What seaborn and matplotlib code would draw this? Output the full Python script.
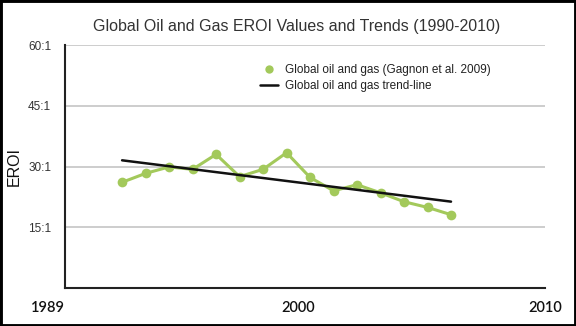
import matplotlib
matplotlib.use("Agg")
import matplotlib.pyplot as plt
from matplotlib.lines import Line2D
from matplotlib.patches import Rectangle
import seaborn as sns
import pandas as pd

# EROI of global oil and gas production (Gagnon et al. 2009)
years = [1992, 1993, 1994, 1995, 1996, 1997, 1998, 1999,
         2000, 2001, 2002, 2003, 2004, 2005, 2006]
eroi = [26.1, 28.3, 29.9, 29.3, 33.0, 27.5, 29.3, 33.4,
        27.3, 24.0, 25.5, 23.5, 21.3, 19.9, 18.1]

y_ticks = [15, 30, 45, 60]
y_tick_labels = ["15:1", "30:1", "45:1", "60:1"]
x_ticks = [1989.57, 1999.5, 2010]
x_tick_labels = ["1989", "2000", "2010"]

df = pd.DataFrame({"year": years, "eroi": eroi})

sns.set_theme(style="white")
plt.rcParams["font.family"] = ["Liberation Sans", "DejaVu Sans"]

green = "#a3c95b"

fig = plt.figure(figsize=(5.76, 3.26), dpi=100)
ax = fig.add_axes([65 / 576, 38 / 326, 480 / 576, 243 / 326])

ax.set_xlim(1989.57, 2010)
ax.set_ylim(0, 60)

# horizontal gridlines
for y in y_ticks:
    ax.axhline(y, color="#c9c9c9", lw=1.3, zorder=0)

sns.lineplot(data=df, x="year", y="eroi", ax=ax, color=green, lw=2.2,
             marker="o", markersize=7, markeredgewidth=0, zorder=3)
sns.regplot(data=df, x="year", y="eroi", ax=ax, scatter=False, ci=None,
            truncate=True, line_kws={"color": "#111111", "lw": 1.8, "zorder": 4})

ax.set_yticks(y_ticks)
ax.set_yticklabels(y_tick_labels, fontsize=8.5, color="#333333")
ax.set_xticks(x_ticks)
ax.set_xticklabels(x_tick_labels, fontsize=10.5, color="#111111",
                   family=["Lato", "DejaVu Sans"], fontweight="semibold")
ax.get_xticklabels()[0].set_horizontalalignment("right")
ax.tick_params(axis="x", length=2.5, color="#999999", pad=7, width=1)
ax.tick_params(axis="y", length=0, pad=10)

ax.set_xlabel("")
ax.set_ylabel("EROI", fontsize=11.5, color="#111111")
ax.yaxis.set_label_coords(-0.09, 0.5)

for side in ["top", "right"]:
    ax.spines[side].set_visible(False)
for side in ["left", "bottom"]:
    ax.spines[side].set_color("#222222")
    ax.spines[side].set_linewidth(1.5)

handles = [
    Line2D([], [], color=green, marker="o", linestyle="none", markersize=6,
           markeredgewidth=0),
    Line2D([], [], color="#111111", lw=1.8),
]
labels = ["Global oil and gas (Gagnon et al. 2009)",
          "Global oil and gas trend-line"]
ax.legend(handles, labels, loc="upper left", bbox_to_anchor=(0.385, 0.965),
          frameon=False, fontsize=8.5, handlelength=1.5, handletextpad=0.55,
          labelspacing=0.3, labelcolor="#222222")

fig.text(0.515, 1 - 27 / 326, "Global Oil and Gas EROI Values and Trends (1990-2010)",
         ha="center", va="center", fontsize=11.5, color="#333333")

# outer frame
fig.patches.append(Rectangle((0, 0), 1, 1, transform=fig.transFigure,
                             fill=False, edgecolor="black", lw=3.5))

fig.savefig("out.png", dpi=100)
